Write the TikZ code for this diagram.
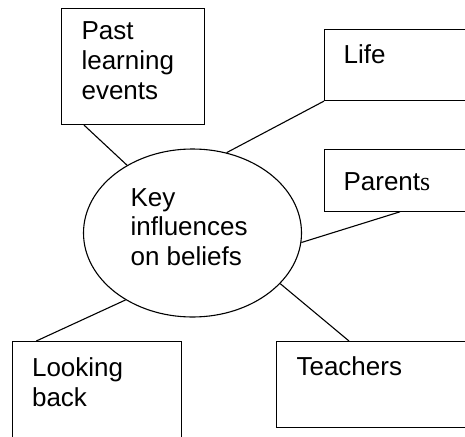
\documentclass[tikz,border=0pt]{standalone}
\usepackage{fontspec}
\setmainfont{Liberation Sans}
\newfontfamily\timesfont{Liberation Serif}
\usetikzlibrary{shapes.geometric}

\begin{document}
\begin{tikzpicture}
  [x=1pt,y=-1pt,line width=1.1pt,
   box/.style={draw,rectangle,anchor=north west,inner sep=0pt},
   txt/.style={anchor=base west,align=left,inner sep=0pt,font=\fontsize{26}{29.8}\selectfont}]
  \useasboundingbox (0,0) rectangle (465,436);
  \clip (0,0) rectangle (465,436);

  \node[draw,ellipse,inner sep=0pt,minimum width=218pt,minimum height=168pt] (key) at (192.5,233) {};
  \node[box,minimum width=143pt,minimum height=116pt] (past) at (61,8) {};
  \node[box,minimum width=150pt,minimum height=71pt] (life) at (324,29) {};
  \node[box,minimum width=150pt,minimum height=61.4pt] (parents) at (324,149.3) {};
  \node[box,minimum width=200pt,minimum height=86pt] (teach) at (276,341) {};
  \node[box,minimum width=168.7pt,minimum height=110pt] (look) at (12.3,341) {};

  % multi-line texts sit on the baseline of their last line
  \node[txt] (keyt) at (130,265.7) {Key\\influences\\on beliefs};
  \node[txt] (pastt) at (81,99) {Past\\learning\\events};
  \node[txt] (lifet) at (343,63.3) {Life};
  \node[txt] (parentst) at (343,190) {Parent{\timesfont s}};
  \node[txt] (teacht) at (296,375.7) {Teachers};
  \node[txt] (lookt) at (31.5,406.6) {Looking\\back};

  \foreach \nd/\cn/\dx/\ang in {past/south west/23/134, life/south west/0/67, parents/south west/76/-5.8,
                                teach/north west/73/-30.2, look/north west/24/-135.6}
    \draw ([xshift=\dx pt]\nd.\cn) -- (key.\ang);

\end{tikzpicture}
\end{document}
